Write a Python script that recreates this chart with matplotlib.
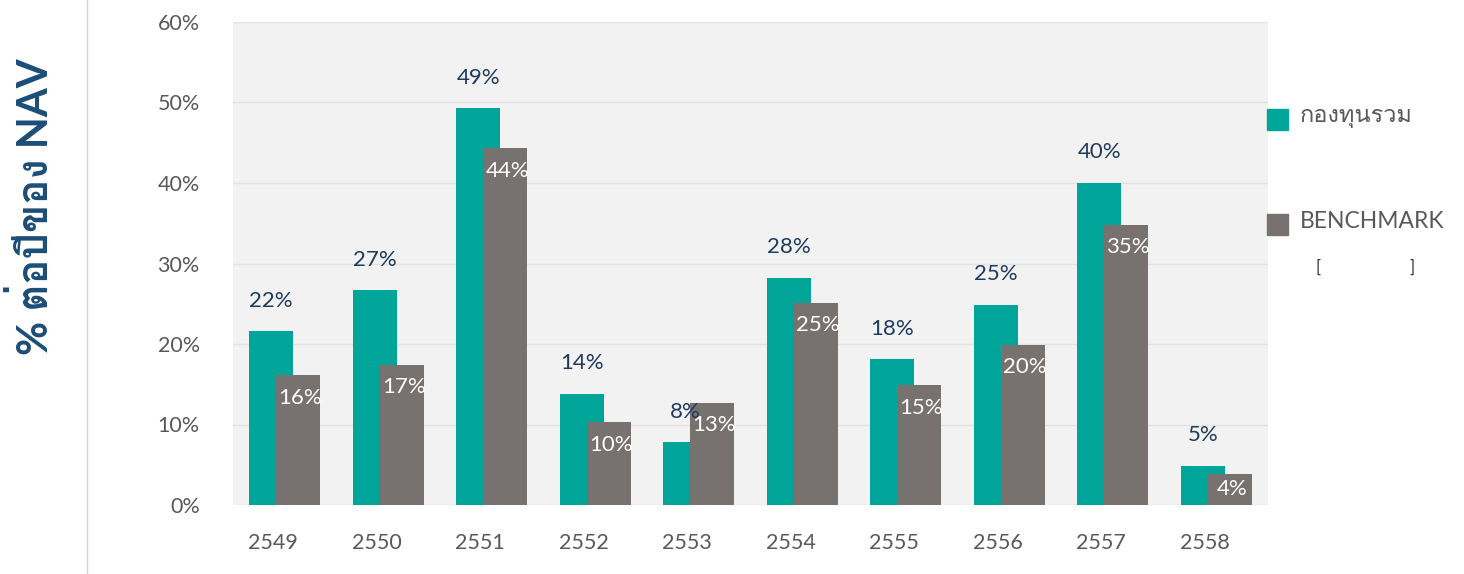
import matplotlib
matplotlib.use("Agg")
import matplotlib.pyplot as plt
from matplotlib import font_manager
from matplotlib.ft2font import FT2Font
from matplotlib.lines import Line2D
import numpy as np

years = ["2549", "2550", "2551", "2552", "2553", "2554", "2555", "2556", "2557", "2558"]
fund = [21.6, 26.7, 49.3, 13.8, 7.8, 28.2, 18.1, 24.9, 40.0, 4.9]
bench = [16.1, 17.4, 44.3, 10.3, 12.7, 25.1, 14.9, 19.9, 34.8, 3.9]
fund_name = "กองทุนรวม"
bench_name = "BENCHMARK"
ylabel = "% ต่อปีของ NAV"

teal = "#00a599"
grey = "#777170"
navy = "#1f3a5c"
txt = "#595959"

# find some installed font that has thai glyphs
thai_font = None
for f in font_manager.fontManager.ttflist:
    try:
        if FT2Font(f.fname).get_char_index(0x0E01):
            thai_font = f.name
            break
    except Exception:
        pass
fams = ["Lato"] + ([thai_font] if thai_font else []) + ["DejaVu Sans"]
plt.rcParams["font.family"] = fams

fig = plt.figure(figsize=(14.64, 5.74), dpi=100)
ax = fig.add_axes([233/1464, 1-505/574, (1268-233)/1464, (505-22)/574])
ax.set_facecolor("#f2f2f2")

x = np.arange(len(years))
w = 0.425
ax.bar(x - 0.13, fund, w, color=teal, zorder=2)
ax.bar(x + 0.13, bench, w, color=grey, zorder=3)

for i in range(len(years)):
    ax.annotate("%.0f%%" % fund[i], (x[i] - 0.13, fund[i]), xytext=(0, 22),
                textcoords="offset points", ha="center", va="center",
                color=navy, fontsize=16, zorder=5)
    # white label inside the grey bar, a bit under its top
    ax.text(x[i] + 0.15, max(bench[i] - 2.8, bench[i] / 2), "%.0f%%" % bench[i],
            ha="center", va="center", color="white", fontsize=16, zorder=5)

ax.set_xlim(-0.5, 9.5)
ax.set_ylim(0, 60)
ax.set_yticks(range(0, 61, 10))
ax.set_yticklabels(["%d%%" % v for v in range(0, 61, 10)])
ax.set_xticks(x - 0.11)
ax.set_xticklabels(years)
ax.tick_params(length=0, labelsize=15.5, colors=txt)
ax.tick_params(axis="y", pad=24)
ax.tick_params(axis="x", pad=20)
ax.yaxis.grid(True, color="#e2e2e2", lw=1)
ax.set_axisbelow(True)
for s in ax.spines.values():
    s.set_visible(False)

fig.text(33/1464, 1-207/574, ylabel, rotation=90, ha="center", va="center",
         fontsize=30, fontweight="bold", color="#1c4d78")

# legend by hand
fig.patches.append(plt.Rectangle((1267/1464, 1-130/574), 21/1464, 21/574,
                                 transform=fig.transFigure, color=teal))
fig.patches.append(plt.Rectangle((1267/1464, 1-235/574), 21/1464, 21/574,
                                 transform=fig.transFigure, color=grey))
fig.text(1300/1464, 1-117/574, fund_name, ha="left", va="center", fontsize=17, color=txt)
fig.text(1300/1464, 1-222/574, bench_name, ha="left", va="center", fontsize=16.5, color=txt)
fig.text(1318/1464, 1-268/574, "[", ha="center", va="center", fontsize=12, color="#333333")
fig.text(1412/1464, 1-268/574, "]", ha="center", va="center", fontsize=12, color="#333333")

fig.lines.append(Line2D([87/1464, 87/1464], [0, 1], transform=fig.transFigure,
                        color="#d6d6d6", lw=1))

fig.savefig("out.png", dpi=100, facecolor="white")
